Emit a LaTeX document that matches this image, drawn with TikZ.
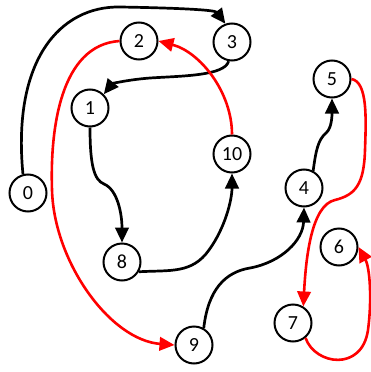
\documentclass[tikz,border=0pt]{standalone}
\usepackage{fontspec}
\setmainfont{Carlito}
\usetikzlibrary{arrows.meta}
\definecolor{edgered}{RGB}{255,0,0}
\tikzset{
  vert/.style={circle,draw=black,line width=2pt,fill=white,minimum size=37pt,inner sep=0pt,font=\fontsize{20}{20}\selectfont},
  blk/.style={draw=black,line width=2.7pt,-{Triangle[length=15pt,width=13.5pt]}},
  rd/.style={draw=edgered,line width=2.6pt,-{Triangle[length=15pt,width=13.5pt]}},
}
\begin{document}
\begin{tikzpicture}[x=1pt,y=-1pt]
\useasboundingbox (0,0) rectangle (371,372);
% vertices
\node[vert] (n0)  at (28,193)  {0};
\node[vert] (n1)  at (90,108)  {1};
\node[vert] (n2)  at (139,41)  {2};
\node[vert] (n3)  at (232,42)  {3};
\node[vert] (n4)  at (304,188) {4};
\node[vert] (n5)  at (332,79)  {5};
\node[vert] (n6)  at (339,247) {6};
\node[vert] (n7)  at (293,323) {7};
\node[vert] (n8)  at (122,262) {8};
\node[vert] (n9)  at (194,345) {9};
\node[vert] (n10) at (232,154) {10};
% black edges
\draw[blk] (n0.105) .. controls (12,60) and (60,6) .. (120,7)
                    .. controls (180,8) and (215,10) .. (n3.110);
\draw[blk] (n3.-100) .. controls (225,76) and (180,76) .. (150,78)
                     .. controls (125,80) and (112,84) .. (n1.45);
\draw[blk] (n1.south) .. controls (90,165) and (94,180) .. (104,184)
                      .. controls (118,190) and (122,215) .. (n8.north);
\draw[blk] (n8.-30) .. controls (170,270) and (192,274) .. (209,250)
                    .. controls (225,228) and (232,200) .. (n10.south);
\draw[blk] (n9.60) .. controls (208,290) and (225,272) .. (250,268)
                   .. controls (282,262) and (303,240) .. (n4.south);
\draw[blk] (n4.62) .. controls (316,150) and (318,140) .. (326,133)
                   .. controls (332,128) and (332,115) .. (n5.south);
% red edges
\draw[rd] (n10.north) .. controls (232,92) and (200,52) .. (n2.east);
\draw[rd] (n2.west) .. controls (60,45) and (50,130) .. (52,190)
                    .. controls (54,262) and (110,340) .. (n9.west);
\draw[rd] (n5.east) .. controls (368,82) and (366,120) .. (365,150)
                    .. controls (364,185) and (355,195) .. (335,200)
                    .. controls (312,205) and (306,255) .. (n7.58);
\draw[rd] (n7.-50) .. controls (315,365) and (362,372) .. (368,330)
                   .. controls (372,300) and (370,268) .. (n6.east);
\end{tikzpicture}
\end{document}
